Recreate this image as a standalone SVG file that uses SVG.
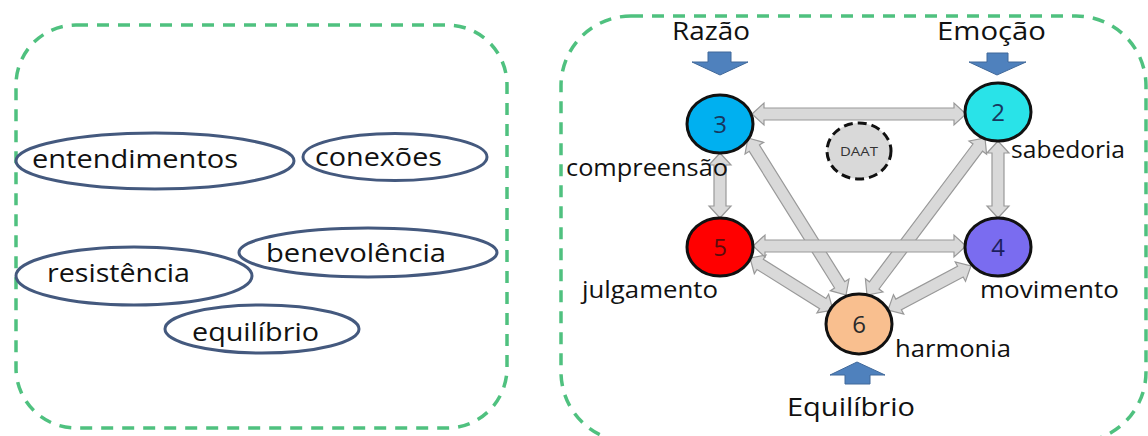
<svg xmlns="http://www.w3.org/2000/svg" width="1148" height="436" viewBox="0 0 1148 436">
<style>
.frame{fill:none;stroke:#4fc17f;stroke-width:3.5;stroke-dasharray:12 9}
.oval{fill:#fff;stroke:#44597e;stroke-width:3}
.t{font-family:"Open Sans","Liberation Sans",sans-serif;fill:#111}
.big{font-size:26px}
.lab{font-size:23px}
.num{font-size:24px;text-anchor:middle}
.node{stroke:#111;stroke-width:3}
.conn{fill:#d9d9d9;stroke:#999;stroke-width:1.2}
.blue{fill:#4f81bd;stroke:#41699a;stroke-width:1}
</style>
<rect width="1148" height="436" fill="#fff"/>
<g id="left-panel">
<rect class="frame" x="16" y="25" width="491" height="403" rx="60" ry="60"/>
<g id="entendimentos"><ellipse class="oval" cx="155" cy="161" rx="139" ry="28"/><text class="t big" x="32" y="168" textLength="206" lengthAdjust="spacingAndGlyphs">entendimentos</text></g>
<g id="conexoes"><ellipse class="oval" cx="395" cy="157" rx="92" ry="23.5"/><text class="t big" x="315" y="166" textLength="127" lengthAdjust="spacingAndGlyphs">conexões</text></g>
<g id="resistencia"><ellipse class="oval" cx="134" cy="276" rx="118" ry="29"/><text class="t big" x="47" y="282" textLength="143" lengthAdjust="spacingAndGlyphs">resistência</text></g>
<g id="benevolencia"><ellipse class="oval" cx="368" cy="252.5" rx="129" ry="24.5"/><text class="t big" x="266" y="262" textLength="180" lengthAdjust="spacingAndGlyphs">benevolência</text></g>
<g id="equilibrio-oval"><ellipse class="oval" cx="262" cy="329" rx="97" ry="24"/><text class="t big" x="192" y="341" textLength="127" lengthAdjust="spacingAndGlyphs">equilíbrio</text></g>
</g>
<g id="right-panel">
<rect class="frame" x="561" y="16" width="585" height="426" rx="70" ry="70"/>
</g>
<g id="connectors">
<path class="conn" transform="translate(748,138) rotate(58.03)" d="M0,0 L12,-11 L12,-6 L173.1,-6 L173.1,-11 L185.1,0 L173.1,11 L173.1,6 L12,6 L12,11 Z"/>
<path class="conn" transform="translate(985,138) rotate(126.93)" d="M0,0 L12,-11 L12,-6 L184.4,-6 L184.4,-11 L196.4,0 L184.4,11 L184.4,6 L12,6 L12,11 Z"/>
<path class="conn" transform="translate(750,258) rotate(32.07)" d="M0,0 L12,-11 L12,-6 L85.9,-6 L85.9,-11 L97.9,0 L85.9,11 L85.9,6 L12,6 L12,11 Z"/>
<path class="conn" transform="translate(888,310) rotate(-27.93)" d="M0,0 L12,-11 L12,-6 L81.9,-6 L81.9,-11 L93.9,0 L81.9,11 L81.9,6 L12,6 L12,11 Z"/>
<path class="conn" transform="translate(752,114)" d="M0,0 L12,-11 L12,-6 L202,-6 L202,-11 L214,0 L202,11 L202,6 L12,6 L12,11 Z"/>
<path class="conn" transform="translate(753,246)" d="M0,0 L12,-11 L12,-6 L201,-6 L201,-11 L213,0 L201,11 L201,6 L12,6 L12,11 Z"/>
<path class="conn" transform="translate(720,153) rotate(90)" d="M0,0 L12,-11 L12,-6 L53,-6 L53,-11 L65,0 L53,11 L53,6 L12,6 L12,11 Z"/>
<path class="conn" transform="translate(998,141) rotate(90)" d="M0,0 L12,-11 L12,-6 L65,-6 L65,-11 L77,0 L65,11 L65,6 L12,6 L12,11 Z"/>
</g>
<g id="razao">
<text class="t big" x="672" y="40" textLength="78" lengthAdjust="spacingAndGlyphs">Razão</text>
<path class="blue" d="M708,52 H731 V62 H748 L720,75 L692,62 H708 Z"/>
</g>
<g id="emocao">
<text class="t big" x="937" y="40" textLength="109" lengthAdjust="spacingAndGlyphs">Emoção</text>
<path class="blue" d="M987,53 H1008 V62 H1026 L997,75 L969,62 H987 Z"/>
</g>
<g id="equilibrio">
<path class="blue" d="M857,362 L885,375 H870 V384 H845 V375 H830 Z"/>
<text class="t big" x="787" y="416" textLength="128" lengthAdjust="spacingAndGlyphs">Equilíbrio</text>
</g>
<g id="node3">
<ellipse class="node" cx="720" cy="124" rx="33" ry="29" fill="#00b0f0"/>
<text class="t num" x="720" y="133" style="fill:#17375e">3</text>
<text class="t lab" x="566" y="176" textLength="162" lengthAdjust="spacingAndGlyphs">compreensão</text>
</g>
<g id="node2">
<ellipse class="node" cx="998" cy="112" rx="33" ry="29" fill="#29e3e8"/>
<text class="t num" x="998" y="121" style="fill:#17375e">2</text>
<text class="t lab" x="1011" y="158" textLength="114" lengthAdjust="spacingAndGlyphs">sabedoria</text>
</g>
<g id="daat">
<ellipse cx="859" cy="151" rx="32" ry="28" fill="#d9d9d9" stroke="#111" stroke-width="3" stroke-dasharray="9 5"/>
<text class="t" x="859" y="156" font-size="13" text-anchor="middle" textLength="38" lengthAdjust="spacingAndGlyphs" style="fill:#333">DAAT</text>
</g>
<g id="node5">
<ellipse class="node" cx="720" cy="247" rx="33" ry="29" fill="#ff0000"/>
<text class="t num" x="720" y="256" style="fill:#5a0c0c">5</text>
<text class="t lab" x="582" y="298" textLength="136" lengthAdjust="spacingAndGlyphs">julgamento</text>
</g>
<g id="node4">
<ellipse class="node" cx="998" cy="247" rx="33" ry="29" fill="#7a6cf0"/>
<text class="t num" x="998" y="256" style="fill:#1c1f5e">4</text>
<text class="t lab" x="980" y="298" textLength="139" lengthAdjust="spacingAndGlyphs">movimento</text>
</g>
<g id="node6">
<ellipse class="node" cx="859" cy="324" rx="33" ry="30" fill="#f9bf8f"/>
<text class="t num" x="859" y="333" style="fill:#2a2a2a">6</text>
<text class="t lab" x="895" y="357" textLength="116" lengthAdjust="spacingAndGlyphs">harmonia</text>
</g>
</svg>
